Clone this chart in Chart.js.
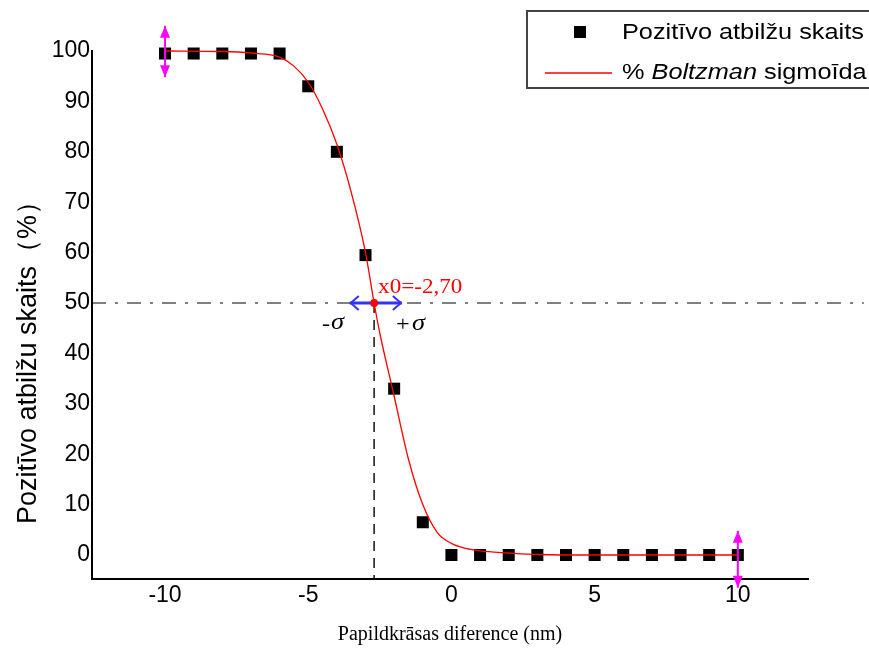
<!DOCTYPE html>
<html>
<head>
<meta charset="utf-8">
<script src="https://cdn.jsdelivr.net/npm/chart.js@4.4.0/dist/chart.umd.min.js"></script>
<style>
  html, body { margin: 0; padding: 0; background: #fff; }
  canvas { display: block; }
</style>
</head>
<body>
<canvas id="chart" width="869" height="654"></canvas>
<script>
// Measured points (positive answers, %)
const diffNm = [-10, -9, -8, -7, -6, -5, -4, -3, -2, -1, 0, 1, 2, 3, 4, 5, 6, 7, 8, 9, 10];
const positivePct = [99.5, 99.5, 99.5, 99.5, 99.5, 93, 80, 59.5, 33, 6.5, 0, 0, 0, 0, 0, 0, 0, 0, 0, 0, 0];

// Boltzmann fit, values
const fitX = [-10, -8, -7, -6, -5.5, -5, -4.5, -4, -3.5, -3, -2.7, -2.5, -2, -1.5, -1, -0.5, 0, 0.5, 1, 2, 3, 5, 10];
const fitY = [100, 99.9, 99.6, 98.8, 97, 93.8, 88.5, 81.5, 72, 60, 50, 44, 31.5, 19, 10, 4.5, 2.3, 1.3, 0.8, 0.4, 0.1, 0, 0];

const xTicks = [-10, -5, 0, 5, 10];
const yTicks = [0, 10, 20, 30, 40, 50, 60, 70, 80, 90, 100];

// x0 and sigma markers
const x0 = -2.70;
const yHalf = 50;
const sigmaLo = -3.55;
const sigmaHi = -1.73;

// magenta error arrows at the ends
const errX = [-10, 10];
const errLo = [94.8, -6.5];
const errHi = [105, 4.8];

function stretchText(ctx, text, x, y, sx) {
    ctx.save();
    ctx.translate(x, y);
    ctx.scale(sx, 1);
    ctx.fillText(text, 0, 0);
    ctx.restore();
    return ctx.measureText(text).width * sx;
}

const annotations = {
    id: 'annotations',
    beforeDatasetsDraw(chart) {
        const ctx = chart.ctx;
        const xs = chart.scales.x, ys = chart.scales.y;
        const px = xs.getPixelForValue(x0);
        const py = ys.getPixelForValue(yHalf);
        ctx.save();
        // horizontal dash-dot line at 50 %
        ctx.strokeStyle = '#000';
        ctx.lineWidth = 1;
        ctx.setLineDash([14, 9, 3, 9]);
        ctx.beginPath();
        ctx.moveTo(chart.chartArea.left, py);
        ctx.lineTo(xs.getPixelForValue(14.4), py);
        ctx.stroke();
        // vertical dashed line at x0
        ctx.lineWidth = 1.4;
        ctx.setLineDash([10, 7]);
        ctx.beginPath();
        ctx.moveTo(px, py);
        ctx.lineTo(px, chart.chartArea.bottom);
        ctx.stroke();
        ctx.restore();
    },
    afterDatasetsDraw(chart) {
        const ctx = chart.ctx;
        const xs = chart.scales.x, ys = chart.scales.y;
        const px = xs.getPixelForValue(x0);
        const py = ys.getPixelForValue(yHalf);
        ctx.save();

        // blue sigma arrow
        const a = xs.getPixelForValue(sigmaLo), b = xs.getPixelForValue(sigmaHi);
        ctx.strokeStyle = '#3333ff';
        ctx.lineWidth = 3;
        ctx.beginPath();
        ctx.moveTo(a, py); ctx.lineTo(b, py);
        ctx.stroke();
        ctx.lineWidth = 2;
        ctx.beginPath();
        ctx.moveTo(a + 9, py - 7); ctx.lineTo(a + 1, py); ctx.lineTo(a + 9, py + 7);
        ctx.moveTo(b - 9, py - 7); ctx.lineTo(b - 1, py); ctx.lineTo(b - 9, py + 7);
        ctx.stroke();

        // red x0 dot
        ctx.fillStyle = '#ff0000';
        ctx.beginPath();
        ctx.arc(px, py, 4, 0, Math.PI * 2);
        ctx.fill();

        // magenta arrows
        ctx.strokeStyle = '#ff00ff';
        ctx.fillStyle = '#ff00ff';
        ctx.lineWidth = 2;
        errX.forEach((x, i) => {
            const ex = xs.getPixelForValue(x);
            const top = ys.getPixelForValue(errHi[i]);
            const bot = ys.getPixelForValue(errLo[i]);
            ctx.beginPath();
            ctx.moveTo(ex, top); ctx.lineTo(ex, bot);
            ctx.stroke();
            ctx.beginPath();
            ctx.moveTo(ex, top); ctx.lineTo(ex - 5, top + 12); ctx.lineTo(ex + 5, top + 12); ctx.closePath();
            ctx.moveTo(ex, bot); ctx.lineTo(ex - 5, bot - 12); ctx.lineTo(ex + 5, bot - 12); ctx.closePath();
            ctx.fill();
        });

        // texts
        ctx.textBaseline = 'middle';
        ctx.textAlign = 'left';
        ctx.fillStyle = '#ff0000';
        ctx.font = '22px "Liberation Serif"';
        stretchText(ctx, 'x0=-2,70', px + 4, py - 16, 1.05);

        ctx.fillStyle = '#000';
        ctx.font = '22px "Liberation Serif"';
        stretchText(ctx, '-', px - 52, py + 21, 1.1);
        stretchText(ctx, '+', px + 22, py + 22, 1.1);
        ctx.font = 'italic 24px "Liberation Serif"';
        stretchText(ctx, 'σ', px - 43, py + 20, 1.1);
        stretchText(ctx, 'σ', px + 38, py + 21, 1.1);
        ctx.restore();
    },
    afterDraw(chart) {
        const ctx = chart.ctx;
        ctx.save();
        // y axis title
        ctx.fillStyle = '#000';
        ctx.font = '27px "Liberation Sans"';
        ctx.textAlign = 'center';
        ctx.textBaseline = 'middle';
        ctx.translate(29, 356);
        ctx.rotate(-Math.PI / 2);
        ctx.fillText('Pozitīvo atbilžu skaits（%）', 0, 0);
        ctx.restore();

        // legend box
        ctx.save();
        ctx.strokeStyle = '#444';
        ctx.lineWidth = 2;
        ctx.strokeRect(527, 11, 360, 77);
        ctx.fillStyle = '#000';
        ctx.fillRect(574, 26, 12, 12);
        ctx.strokeStyle = '#ff0000';
        ctx.lineWidth = 1.3;
        ctx.beginPath();
        ctx.moveTo(545, 73); ctx.lineTo(612, 73);
        ctx.stroke();
        ctx.textBaseline = 'middle';
        ctx.textAlign = 'left';
        ctx.font = '22px "Liberation Sans"';
        stretchText(ctx, 'Pozitīvo atbilžu skaits', 622, 33, 1.15);
        let x = 622;
        x += stretchText(ctx, '% ', x, 73, 1.15);
        ctx.font = 'italic 22px "Liberation Sans"';
        x += stretchText(ctx, 'Boltzman', x, 73, 1.15);
        ctx.font = '22px "Liberation Sans"';
        stretchText(ctx, ' sigmoīda', x, 73, 1.15);
        ctx.restore();
    }
};

new Chart(document.getElementById('chart').getContext('2d'), {
    type: 'scatter',
    data: {
        datasets: [{
            label: '% Boltzman sigmoīda',
            data: fitX.map((x, i) => ({ x: x, y: fitY[i] })),
            showLine: true,
            borderColor: '#ff0000',
            borderWidth: 1.3,
            pointRadius: 0,
            cubicInterpolationMode: 'monotone',
            clip: false,
            order: 0
        }, {
            label: 'Pozitīvo atbilžu skaits',
            data: diffNm.map((x, i) => ({ x: x, y: positivePct[i] })),
            pointStyle: 'rect',
            pointRadius: 8.5,
            backgroundColor: '#000',
            borderWidth: 0,
            clip: false,
            order: 1
        }]
    },
    options: {
        responsive: false,
        animation: false,
        layout: { padding: { left: 0, top: 51, right: 61, bottom: 0 } },
        plugins: { legend: { display: false }, tooltip: { enabled: false } },
        scales: {
            x: {
                type: 'linear',
                min: -12.55,
                max: 12.45,
                afterBuildTicks: s => { s.ticks = xTicks.map(v => ({ value: v })); },
                afterFit: s => { s.height = 75; },
                grid: { display: false, drawTicks: false },
                border: { color: '#000', width: 2 },
                ticks: { color: '#000', padding: 3, font: { family: 'Liberation Sans', size: 23 } },
                title: {
                    display: true,
                    text: 'Papildkrāsas diference (nm)',
                    color: '#000',
                    padding: { top: 0, bottom: 7 },
                    font: { family: 'Liberation Serif', size: 20 }
                }
            },
            y: {
                type: 'linear',
                min: -4.76,
                max: 100,
                afterBuildTicks: s => { s.ticks = yTicks.map(v => ({ value: v })); },
                afterFit: s => { s.width = 92; },
                grid: { display: false, drawTicks: false },
                border: { color: '#000', width: 2 },
                ticks: { color: '#000', padding: 2, font: { family: 'Liberation Sans', size: 23 } }
            }
        }
    },
    plugins: [annotations]
});
</script>
</body>
</html>
